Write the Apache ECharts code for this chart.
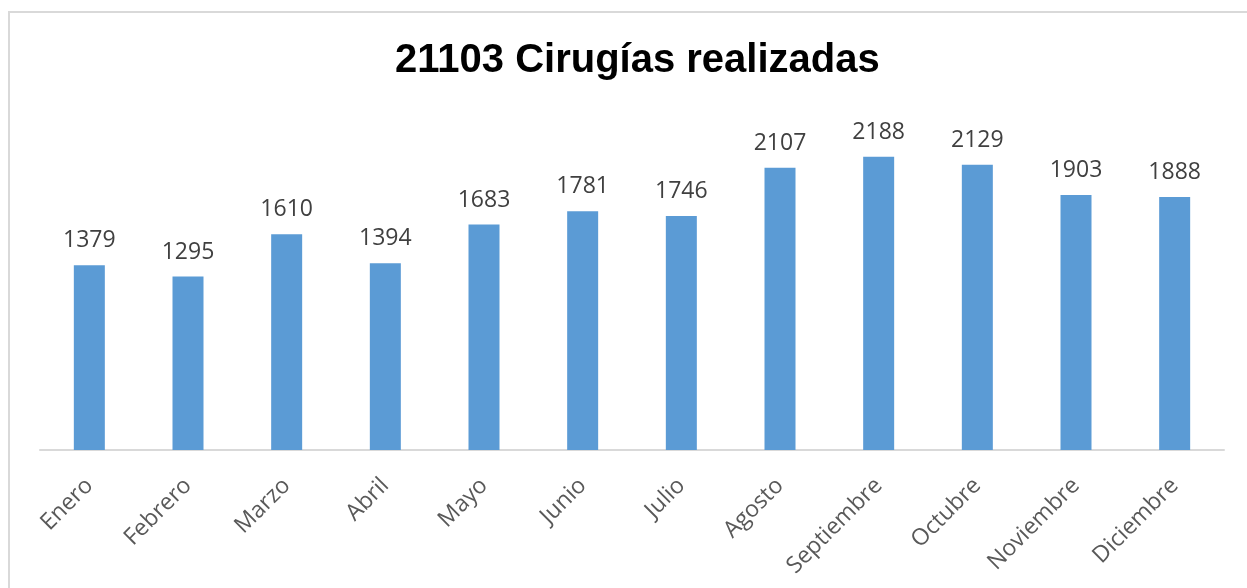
<!DOCTYPE html>
<html>
<head>
<meta charset="utf-8">
<script src="https://cdn.jsdelivr.net/npm/echarts@6/dist/echarts.min.js"></script>
<style>
  html, body { margin: 0; padding: 0; background: #fff; }
  #chart { width: 1247px; height: 588px; }
</style>
</head>
<body>
<div id="chart"></div>
<script>
const months = ['Enero', 'Febrero', 'Marzo', 'Abril', 'Mayo', 'Junio', 'Julio',
  'Agosto', 'Septiembre', 'Octubre', 'Noviembre', 'Diciembre']
const surgeries = [1379, 1295, 1610, 1394, 1683, 1781, 1746, 2107, 2188, 2129, 1903, 1888]

const chart = echarts.init(document.getElementById('chart'))

const labelFont = 'Open Sans'

chart.setOption({
  animation: false,
  title: {
    text: '21103 Cirugías realizadas',
    left: 390,
    top: 36,
    textStyle: {
      fontFamily: 'Liberation Sans',
      fontSize: 40,
      fontWeight: 'bold',
      color: '#000',
    },
  },
  graphic: [
    {
      type: 'rect',
      shape: { x: 9, y: 12, width: 1260, height: 600 },
      style: { fill: 'none', stroke: '#d9d9d9', lineWidth: 2 },
      silent: true,
    },
  ],
  grid: {
    left: 40,
    right: 23,
    top: 115,
    bottom: 138,
  },
  xAxis: {
    type: 'category',
    data: months,
    axisTick: { show: false },
    axisLine: { lineStyle: { color: '#d9d9d9', width: 2 } },
    axisLabel: {
      rotate: 45,
      margin: 32,
      interval: 0,
      color: '#595959',
      fontFamily: labelFont,
      fontSize: 23,
    },
  },
  yAxis: {
    type: 'value',
    min: 0,
    max: 2500,
    show: false,
  },
  series: [
    {
      type: 'bar',
      data: surgeries,
      barWidth: 31,
      itemStyle: { color: '#5b9bd5' },
      label: {
        show: true,
        position: 'top',
        distance: 13,
        color: '#404040',
        fontFamily: labelFont,
        fontSize: 23,
      },
    },
  ],
})
</script>
</body>
</html>
